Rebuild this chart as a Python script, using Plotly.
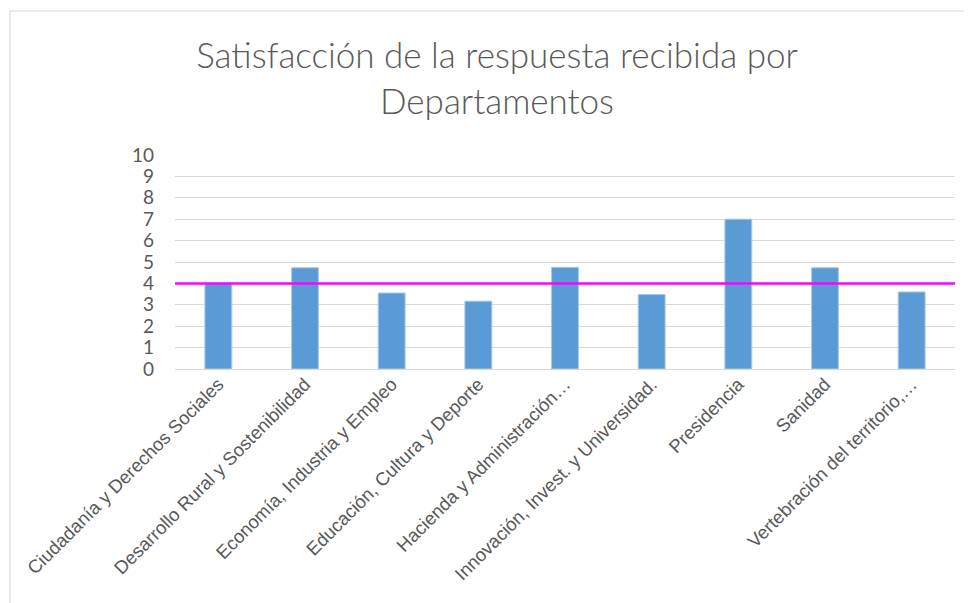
import plotly.graph_objects as go

categories = [
    "Ciudadanía y Derechos Sociales",
    "Desarrollo Rural y Sostenibilidad",
    "Economía, Industria y Empleo",
    "Educación, Cultura y Deporte",
    "Hacienda y Administración…",
    "Innovación, Invest. y Universidad.",
    "Presidencia",
    "Sanidad",
    "Vertebración del territorio,…",
]
values = [4.0, 4.73, 3.55, 3.17, 4.75, 3.48, 7.0, 4.73, 3.6]
threshold = 4
y_ticks = list(range(0, 11))
title_text = "Satisfacción de la respuesta recibida por<br>Departamentos"

# page body adds an 8px offset
OFF = 8
W, H = 972 - OFF, 603 - OFF
ml, mt = 175 - OFF, 155 - OFF
mr = W - (955 - OFF)
mb = H - (369 - OFF)

fig = go.Figure()
fig.add_trace(go.Bar(
    x=categories, y=values,
    marker=dict(color="#5B9BD5", line=dict(color="#A6C8EA", width=1)),
    hoverinfo="x+y",
))

pw = W - ml - mr
ph = H - mt - mb
fig.add_shape(type="rect", xref="paper", yref="paper",
              x0=(2 - ml) / pw, x1=(W + 10 - ml) / pw,
              y0=(H - mb - (H + 10)) / ph, y1=(H - mb - 3) / ph,
              line=dict(color="#D9D9D9", width=1.2), fillcolor="rgba(0,0,0,0)", layer="below")
fig.add_shape(type="line", xref="paper", yref="y", x0=0, x1=1,
              y0=threshold, y1=threshold,
              line=dict(color="#FF00FF", width=2.5), layer="above")

fig.update_layout(
    width=W, height=H,
    template="none",
    paper_bgcolor="white", plot_bgcolor="white",
    margin=dict(l=ml, r=mr, t=mt, b=mb, autoexpand=False),
    bargap=0.69,
    showlegend=False,
    title=dict(text=title_text, x=(497 - OFF) / W, xref="container", xanchor="center",
               y=1 - (78 - OFF - 10) / H, yref="container", yanchor="middle",
               font=dict(family="Lato", size=35, color="#595959", weight=300)),
    xaxis=dict(tickangle=-45, automargin=False, showgrid=False, showline=False,
               ticks="", tickfont=dict(family="Liberation Sans", size=18.5, color="#595959")),
    yaxis=dict(range=[0, 10], tickvals=y_ticks, automargin=False,
               showgrid=True, gridcolor="#D9D9D9", gridwidth=1.3,
               zeroline=True, zerolinecolor="#D9D9D9", zerolinewidth=1.3,
               showline=False, ticks="", ticklabelstandoff=20,
               tickfont=dict(family="Lato", size=19, color="#595959")),
)

fig.write_html("out.html")
